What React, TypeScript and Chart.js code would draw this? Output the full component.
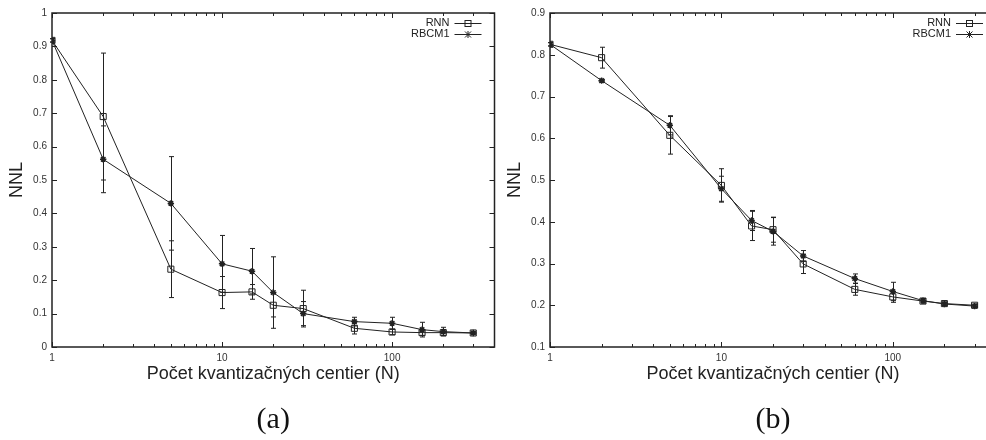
import React, { useEffect, useRef } from 'react';
import { Chart, registerables } from 'chart.js';

Chart.register(...registerables);

// ---------- data ----------
const xValues = [1, 2, 5, 10, 15, 20, 30, 60, 100, 150, 200, 300];
const seriesNames = ['RNN', 'RBCM1'];

const rnnA = [0.918, 0.69, 0.233, 0.163, 0.165, 0.125, 0.115, 0.056, 0.045, 0.043, 0.043, 0.042];
const rnnAErr = [0.005, 0.19, 0.085, 0.048, 0.022, 0.035, 0.055, 0.017, 0.008, 0.008, 0.008, 0.003];
const rbcmA = [0.918, 0.562, 0.43, 0.249, 0.227, 0.163, 0.1, 0.076, 0.071, 0.052, 0.046, 0.042];
const rbcmAErr = [0.005, 0.1, 0.14, 0.085, 0.068, 0.107, 0.036, 0.013, 0.018, 0.022, 0.013, 0.003];

const rnnB = [0.825, 0.793, 0.607, 0.487, 0.39, 0.381, 0.299, 0.238, 0.22, 0.21, 0.204, 0.2];
const rnnBErr = [0.004, 0.025, 0.045, 0.04, 0.035, 0.03, 0.023, 0.014, 0.013, 0.005, 0.004, 0.003];
const rbcmB = [0.825, 0.738, 0.631, 0.479, 0.403, 0.377, 0.318, 0.264, 0.233, 0.211, 0.203, 0.198];
const rbcmBErr = [0.004, 0.003, 0.023, 0.03, 0.024, 0.033, 0.013, 0.011, 0.022, 0.005, 0.004, 0.003];

const xMajorTicks = [1, 10, 100];
const xMajorLabels = ['1', '10', '100'];
const xMinorTicks = [2, 3, 4, 5, 6, 7, 8, 9, 20, 30, 40, 50, 60, 70, 80, 90, 200, 300];
const yTicksA = [0, 0.1, 0.2, 0.3, 0.4, 0.5, 0.6, 0.7, 0.8, 0.9, 1];
const yTickLabelsA = ['0', '0.1', '0.2', '0.3', '0.4', '0.5', '0.6', '0.7', '0.8', '0.9', '1'];
const yTicksB = [0.1, 0.2, 0.3, 0.4, 0.5, 0.6, 0.7, 0.8, 0.9];
const yTickLabelsB = ['0.1', '0.2', '0.3', '0.4', '0.5', '0.6', '0.7', '0.8', '0.9'];

const xTitle = 'Počet kvantizačných centier (N)';
const yTitle = 'NNL';
const captionA = '(a)';
const captionB = '(b)';

const INK = '#222';
const SANS = '"Liberation Sans", Arial, Helvetica, sans-serif';

// ---------- plugin ----------
const gnuplotPlugin = {
  id: 'gp',
  beforeDatasetsDraw(chart: any) {
    const o = chart.options.plugins.gp;
    const ctx = chart.ctx;
    const xs = chart.scales.x;
    const ys = chart.scales.y;
    ctx.save();
    ctx.strokeStyle = INK;
    ctx.lineWidth = 1;
    o.errors.forEach((err: number[], di: number) => {
      const vals = o.values[di];
      xValues.forEach((xv, i) => {
        const px = Math.round(xs.getPixelForValue(xv)) + 0.5;
        const y1 = ys.getPixelForValue(vals[i] - err[i]);
        const y2 = ys.getPixelForValue(vals[i] + err[i]);
        ctx.beginPath();
        ctx.moveTo(px, y1);
        ctx.lineTo(px, y2);
        ctx.moveTo(px - 2.5, y1);
        ctx.lineTo(px + 2.5, y1);
        ctx.moveTo(px - 2.5, y2);
        ctx.lineTo(px + 2.5, y2);
        ctx.stroke();
      });
    });
    ctx.restore();
  },
  afterDraw(chart: any) {
    const o = chart.options.plugins.gp;
    const ctx = chart.ctx;
    const a = chart.chartArea;
    const xs = chart.scales.x;
    const ys = chart.scales.y;
    ctx.save();
    // frame
    ctx.strokeStyle = INK;
    ctx.lineWidth = 1.5;
    ctx.strokeRect(a.left, a.top, a.right - a.left, a.bottom - a.top);
    // ticks
    ctx.lineWidth = 1;
    const vt = (px: number, len: number) => {
      px = Math.round(px) + 0.5;
      ctx.beginPath();
      ctx.moveTo(px, a.bottom);
      ctx.lineTo(px, a.bottom - len);
      ctx.moveTo(px, a.top);
      ctx.lineTo(px, a.top + len);
      ctx.stroke();
    };
    xMajorTicks.forEach((v) => vt(xs.getPixelForValue(v), 5));
    xMinorTicks.forEach((v) => vt(xs.getPixelForValue(v), 3));
    o.yTicks.forEach((v: number) => {
      const py = Math.round(ys.getPixelForValue(v)) + 0.5;
      ctx.beginPath();
      ctx.moveTo(a.left, py);
      ctx.lineTo(a.left + 5, py);
      ctx.moveTo(a.right, py);
      ctx.lineTo(a.right - 5, py);
      ctx.stroke();
    });
    // tick labels
    ctx.font = '10px ' + SANS;
    ctx.fillStyle = '#333';
    ctx.textAlign = 'center';
    ctx.textBaseline = 'middle';
    xMajorTicks.forEach((v, i) => {
      ctx.fillText(xMajorLabels[i], xs.getPixelForValue(v), a.bottom + 11);
    });
    ctx.textAlign = 'right';
    o.yTicks.forEach((v: number, i: number) => {
      ctx.fillText(o.yLabels[i], a.left - 5, ys.getPixelForValue(v));
    });
    // legend
    ctx.font = '11px ' + SANS;
    ctx.fillStyle = INK;
    ctx.textAlign = 'right';
    ctx.textBaseline = 'middle';
    seriesNames.forEach((name, i) => {
      const ly = 23 + i * 11;
      ctx.fillText(name, a.right - 45, ly);
      ctx.beginPath();
      ctx.moveTo(a.right - 40, ly + 0.5);
      ctx.lineTo(a.right - 13, ly + 0.5);
      ctx.stroke();
      const mx = a.right - 26.5;
      if (i === 0) {
        ctx.strokeRect(mx - 3, ly - 2.5, 6, 6);
      } else {
        ctx.beginPath();
        ctx.moveTo(mx - 3, ly - 2.5);
        ctx.lineTo(mx + 3, ly + 3.5);
        ctx.moveTo(mx + 3, ly - 2.5);
        ctx.lineTo(mx - 3, ly + 3.5);
        ctx.moveTo(mx, ly - 3);
        ctx.lineTo(mx, ly + 4);
        ctx.moveTo(mx - 3.5, ly + 0.5);
        ctx.lineTo(mx + 3.5, ly + 0.5);
        ctx.stroke();
      }
    });
    // axis titles
    const cx = (a.left + a.right) / 2;
    ctx.font = '18px ' + SANS;
    ctx.textAlign = 'center';
    ctx.fillText(xTitle, cx, 374);
    ctx.save();
    ctx.translate(a.left - 35, (a.top + a.bottom) / 2);
    ctx.rotate(-Math.PI / 2);
    ctx.fillText(yTitle, 0, 0);
    ctx.restore();
    // caption
    ctx.font = '30px "Liberation Serif", "Times New Roman", serif';
    ctx.fillStyle = '#111';
    ctx.fillText(o.caption, cx, 420);
    ctx.restore();
  },
};

function makeConfig(
  rnn: number[], rnnErr: number[], rbcm: number[], rbcmErr: number[],
  yMin: number, yMax: number, yTicks: number[], yLabels: string[],
  padLeft: number, padRight: number, caption: string
): any {
  const pts = (vals: number[]) => xValues.map((x, i) => ({ x, y: vals[i] }));
  return {
    type: 'line',
    data: {
      datasets: [
        {
          label: seriesNames[0],
          data: pts(rnn),
          borderColor: INK,
          borderWidth: 1,
          pointStyle: 'rect',
          pointRadius: 4.3,
          pointBackgroundColor: 'rgba(0,0,0,0)',
          pointBorderColor: INK,
          pointBorderWidth: 1,
          tension: 0,
        },
        {
          label: seriesNames[1],
          data: pts(rbcm),
          borderColor: INK,
          borderWidth: 1,
          pointStyle: 'star',
          pointRadius: 3.2,
          pointBackgroundColor: INK,
          pointBorderColor: INK,
          pointBorderWidth: 1.5,
          tension: 0,
        },
      ],
    },
    options: {
      responsive: false,
      animation: false,
      devicePixelRatio: 1,
      layout: { padding: { left: padLeft, right: padRight, top: 13, bottom: 93 } },
      plugins: {
        legend: { display: false },
        tooltip: { enabled: false },
        gp: {
          values: [rnn, rbcm],
          errors: [rnnErr, rbcmErr],
          yTicks,
          yLabels,
          caption,
        },
      },
      scales: {
        x: {
          type: 'logarithmic',
          min: 1,
          max: 400,
          grid: { display: false, drawTicks: false },
          border: { display: false },
          ticks: { display: false },
          afterFit: (s: any) => {
            s.height = 0;
          },
        },
        y: {
          type: 'linear',
          min: yMin,
          max: yMax,
          grid: { display: false, drawTicks: false },
          border: { display: false },
          ticks: { display: false },
          afterFit: (s: any) => {
            s.width = 0;
          },
        },
      },
    },
    plugins: [gnuplotPlugin],
  };
}

function ChartCanvas({ config, width, height, left }: { config: any; width: number; height: number; left: number }) {
  const ref = useRef<HTMLCanvasElement | null>(null);
  useEffect(() => {
    if (!ref.current) return;
    const chart = new Chart(ref.current, config);
    return () => chart.destroy();
  }, [config]);
  return (
    <canvas
      ref={ref}
      width={width}
      height={height}
      style={{ position: 'absolute', left, top: 0, width, height }}
    />
  );
}

const configA = makeConfig(rnnA, rnnAErr, rbcmA, rbcmAErr, 0, 1, yTicksA, yTickLabelsA, 52, 5, captionA);
const configB = makeConfig(rnnB, rnnBErr, rbcmB, rbcmBErr, 0.1, 0.9, yTicksB, yTickLabelsB, 57, 7, captionB);

export default function App() {
  return (
    <div
      style={{
        position: 'absolute',
        left: 0,
        top: 0,
        width: 986,
        height: 440,
        overflow: 'hidden',
        background: '#fff',
      }}
    >
      <ChartCanvas config={configA} width={500} height={440} left={0} />
      <ChartCanvas config={configB} width={510} height={440} left={493} />
    </div>
  );
}
